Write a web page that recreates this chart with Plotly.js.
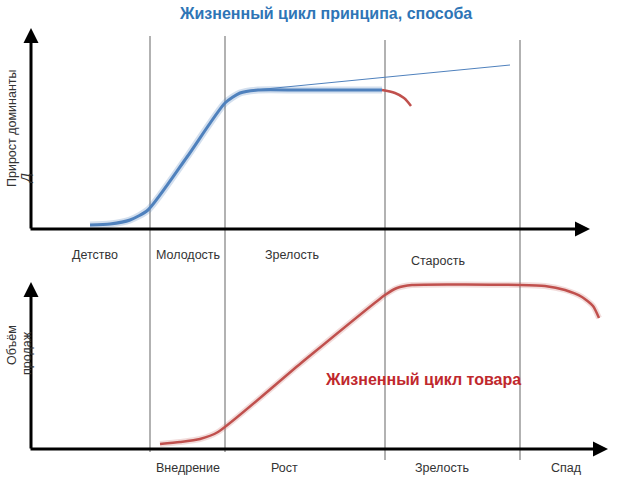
<!DOCTYPE html>
<html>
<head>
<meta charset="utf-8">
<script src="https://cdn.plot.ly/plotly-3.0.1.min.js"></script>
<style>
  body { margin: 0; background: #fff; }
  #chart { width: 640px; height: 480px; }
</style>
</head>
<body>
<div id="chart"></div>
<script>
// diagram space: x to the right, y downward (0..480)
var dividerX = [150, 225, 385, 520];
var dividerTop = [36, 36, 40, 40];
var dividerBottom = [452, 452, 460, 460];

// top curve: principle life cycle
var blueX = [90, 110, 130, 148, 187, 225, 240, 258, 300, 382];
var blueY = [225, 224, 220, 210, 157, 103, 93, 90, 90, 90];
var tailX = [382, 395, 404, 411];
var tailY = [90, 93, 98, 106];
var trendX = [255, 510];
var trendY = [90, 65];

// bottom curve: product life cycle
var redX = [160, 180, 200, 218, 300, 385, 397, 412, 520, 545, 565, 582, 593, 599];
var redY = [444, 442, 439, 432, 364, 295, 288, 285, 285, 286, 290, 297, 306, 318];

var topStages = ['Детство', 'Молодость', 'Зрелость', 'Старость'];
var topStageX = [95, 188, 292, 438];
var topStageY = [255, 255, 255, 261];
var bottomStages = ['Внедрение', 'Рост', 'Зрелость', 'Спад'];
var bottomStageX = [188, 284, 442, 566];
var bottomStageY = [468, 468, 468, 468];

var blue = '#4f81bd';
var red = '#c0504d';

var traces = [
  {x: blueX, y: blueY, mode: 'lines', line: {color: 'rgba(79,129,189,0.25)', width: 7, shape: 'spline', smoothing: 0.6}, hoverinfo: 'skip'},
  {x: blueX, y: blueY, mode: 'lines', line: {color: blue, width: 3, shape: 'spline', smoothing: 0.6}},
  {x: tailX, y: tailY, mode: 'lines', line: {color: red, width: 2.5, shape: 'spline'}},
  {x: trendX, y: trendY, mode: 'lines', line: {color: blue, width: 1}},
  {x: redX, y: redY, mode: 'lines', line: {color: 'rgba(192,80,77,0.2)', width: 6, shape: 'spline', smoothing: 0.6}, hoverinfo: 'skip'},
  {x: redX, y: redY, mode: 'lines', line: {color: red, width: 2.5, shape: 'spline', smoothing: 0.6}}
];

var shapes = dividerX.map(function (x, i) {
  return {type: 'line', xref: 'x', yref: 'y', x0: x, x1: x, y0: dividerTop[i], y1: dividerBottom[i],
    line: {color: '#7f7f7f', width: 1.2}, layer: 'below'};
});

function arrow(x0, y0, x1, y1) {
  return {x: x1, y: y1, ax: x0, ay: y0, xref: 'x', yref: 'y', axref: 'x', ayref: 'y',
    showarrow: true, arrowhead: 2, arrowsize: 1, arrowwidth: 3, arrowcolor: '#000', text: ''};
}

var labelFont = {family: 'Liberation Sans', size: 12.5, color: '#333'};

var annotations = [
  arrow(31, 230, 31, 28),
  arrow(29, 229, 590, 229),
  arrow(31, 450, 31, 282),
  arrow(29, 449, 608, 449),
  {x: 325, y: 13, xref: 'x', yref: 'y', text: '<b>Жизненный цикл принципа, способа</b>', showarrow: false,
    font: {family: 'Liberation Sans', size: 16, color: '#2e75b6'}},
  {x: 423, y: 379, xref: 'x', yref: 'y', text: '<b>Жизненный цикл товара</b>', showarrow: false,
    font: {family: 'Liberation Sans', size: 16, color: '#c0282d'}},
  {x: 12, y: 128, xref: 'x', yref: 'y', text: 'Прирост доминанты', showarrow: false, textangle: -90, font: labelFont},
  {x: 26, y: 179, xref: 'x', yref: 'y', text: '<i>Д</i>', showarrow: false, textangle: -90, font: labelFont},
  {x: 12, y: 345, xref: 'x', yref: 'y', text: 'Объём', showarrow: false, textangle: -90, font: labelFont},
  {x: 27, y: 353, xref: 'x', yref: 'y', text: 'продаж', showarrow: false, textangle: -90, font: labelFont}
];

topStages.forEach(function (t, i) {
  annotations.push({x: topStageX[i], y: topStageY[i], xref: 'x', yref: 'y', text: t, showarrow: false, font: labelFont});
});
bottomStages.forEach(function (t, i) {
  annotations.push({x: bottomStageX[i], y: bottomStageY[i], xref: 'x', yref: 'y', text: t, showarrow: false, font: labelFont});
});

var layout = {
  width: 640,
  height: 480,
  margin: {l: 0, r: 0, t: 0, b: 0},
  showlegend: false,
  paper_bgcolor: '#fff',
  plot_bgcolor: '#fff',
  xaxis: {range: [0, 640], visible: false, fixedrange: true},
  yaxis: {range: [480, 0], visible: false, fixedrange: true},
  shapes: shapes,
  annotations: annotations
};

Plotly.newPlot('chart', traces, layout, {staticPlot: true});
</script>
</body>
</html>
